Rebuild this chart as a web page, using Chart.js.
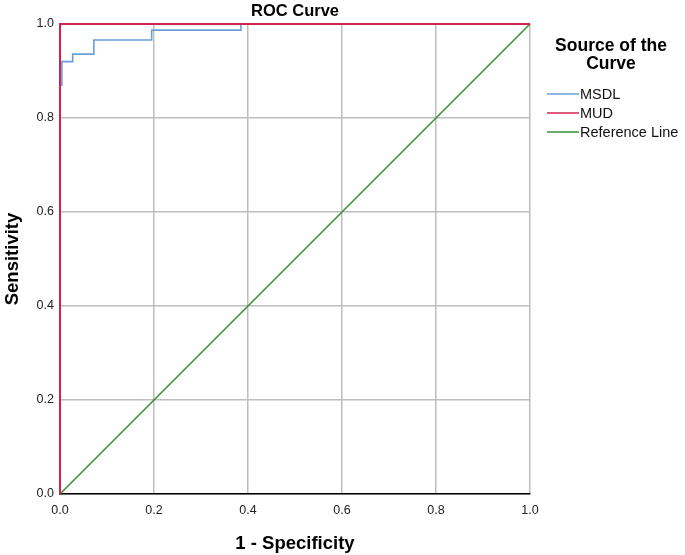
<!DOCTYPE html>
<html>
<head>
<meta charset="utf-8">
<script src="https://cdn.jsdelivr.net/npm/chart.js@4/dist/chart.umd.min.js"></script>
<style>
  html, body { margin: 0; padding: 0; background: #fff; }
  #wrap { width: 685px; height: 555px; position: relative; }
</style>
</head>
<body>
<div id="wrap"><canvas id="roc"></canvas></div>
<script>
const chartTitle = 'ROC Curve';
const xTitle = '1 - Specificity';
const yTitle = 'Sensitivity';
const legendTitle = ['Source of the', 'Curve'];
const seriesNames = ['MSDL', 'MUD', 'Reference Line'];
const seriesColors = ['#6a9fd9', '#d2234f', '#3b8e3b'];

// MSDL step curve (1 - specificity, sensitivity)
const msdlFpr = [0, 0, 0.004, 0.004, 0.027, 0.027, 0.072, 0.072, 0.195, 0.195, 0.385, 0.385, 1];
const msdlTpr = [0, 0.87, 0.87, 0.92, 0.92, 0.936, 0.936, 0.966, 0.966, 0.987, 0.987, 1, 1];
// MUD: perfect classifier
const mudFpr = [0, 0, 1];
const mudTpr = [0, 1, 1];
// diagonal reference
const refFpr = [0, 1];
const refTpr = [0, 1];

const toPts = (xs, ys) => xs.map((x, i) => ({ x, y: ys[i] }));
const FONT = '"Liberation Sans", Arial, Helvetica, sans-serif';

const decor = {
  id: 'decor',
  afterDraw(chart) {
    const { ctx, chartArea } = chart;
    ctx.save();
    ctx.fillStyle = '#000';
    ctx.textAlign = 'center';
    ctx.textBaseline = 'middle';
    ctx.font = `bold 16.5px ${FONT}`;
    ctx.fillText(chartTitle, (chartArea.left + chartArea.right) / 2, 11);

    ctx.font = `bold 17.5px ${FONT}`;
    ctx.fillText(legendTitle[0], 611, 46);
    ctx.fillText(legendTitle[1], 611, 64);

    ctx.font = `14.5px ${FONT}`;
    ctx.textAlign = 'left';
    seriesNames.forEach((name, i) => {
      const y = 94 + i * 19;
      ctx.strokeStyle = seriesColors[i];
      ctx.lineWidth = 1.5;
      ctx.beginPath();
      ctx.moveTo(547, y);
      ctx.lineTo(579, y);
      ctx.stroke();
      ctx.fillStyle = '#111';
      ctx.fillText(name, 580, y + 1);
    });
    ctx.restore();
  },
};

new Chart(document.getElementById('roc'), {
  type: 'line',
  data: {
    datasets: [
      { label: seriesNames[1], data: toPts(mudFpr, mudTpr), borderColor: seriesColors[1], borderWidth: 2, order: 0 },
      { label: seriesNames[0], data: toPts(msdlFpr, msdlTpr), borderColor: seriesColors[0], borderWidth: 1.6, order: 1 },
      { label: seriesNames[2], data: toPts(refFpr, refTpr), borderColor: seriesColors[2], borderWidth: 1.6, order: 2 },
    ].map((d) => ({ ...d, pointRadius: 0, tension: 0, fill: false, clip: 4 })),
  },
  options: {
    responsive: true,
    maintainAspectRatio: false,
    animation: false,
    layout: { padding: { top: 24, right: 155, left: 0, bottom: 0 } },
    plugins: { legend: { display: false }, title: { display: false }, tooltip: { enabled: false } },
    scales: {
      x: {
        type: 'linear', min: 0, max: 1,
        afterFit: (s) => { s.height = 61; },
        border: { display: true, color: '#000', width: 1.5 },
        grid: { color: '#bdbdbd', lineWidth: 1.5, drawTicks: false },
        ticks: { stepSize: 0.2, padding: 9, color: '#222', font: { family: FONT, size: 12.5 }, callback: (v) => v.toFixed(1) },
        title: { display: true, text: xTitle, color: '#000', font: { family: FONT, size: 18.5, weight: 'bold' }, padding: { top: 16, bottom: 0 } },
      },
      y: {
        type: 'linear', min: 0, max: 1,
        afterFit: (s) => { s.width = 60; },
        border: { display: true, color: '#000', width: 1.5 },
        grid: { color: '#bdbdbd', lineWidth: 1.5, drawTicks: false },
        ticks: { stepSize: 0.2, padding: 6, color: '#222', font: { family: FONT, size: 12.5 }, callback: (v) => v.toFixed(1) },
        title: { display: true, text: yTitle, color: '#000', font: { family: FONT, size: 18.5, weight: 'bold' }, padding: { top: 2, bottom: 4 } },
      },
    },
  },
  plugins: [decor],
});
</script>
</body>
</html>
